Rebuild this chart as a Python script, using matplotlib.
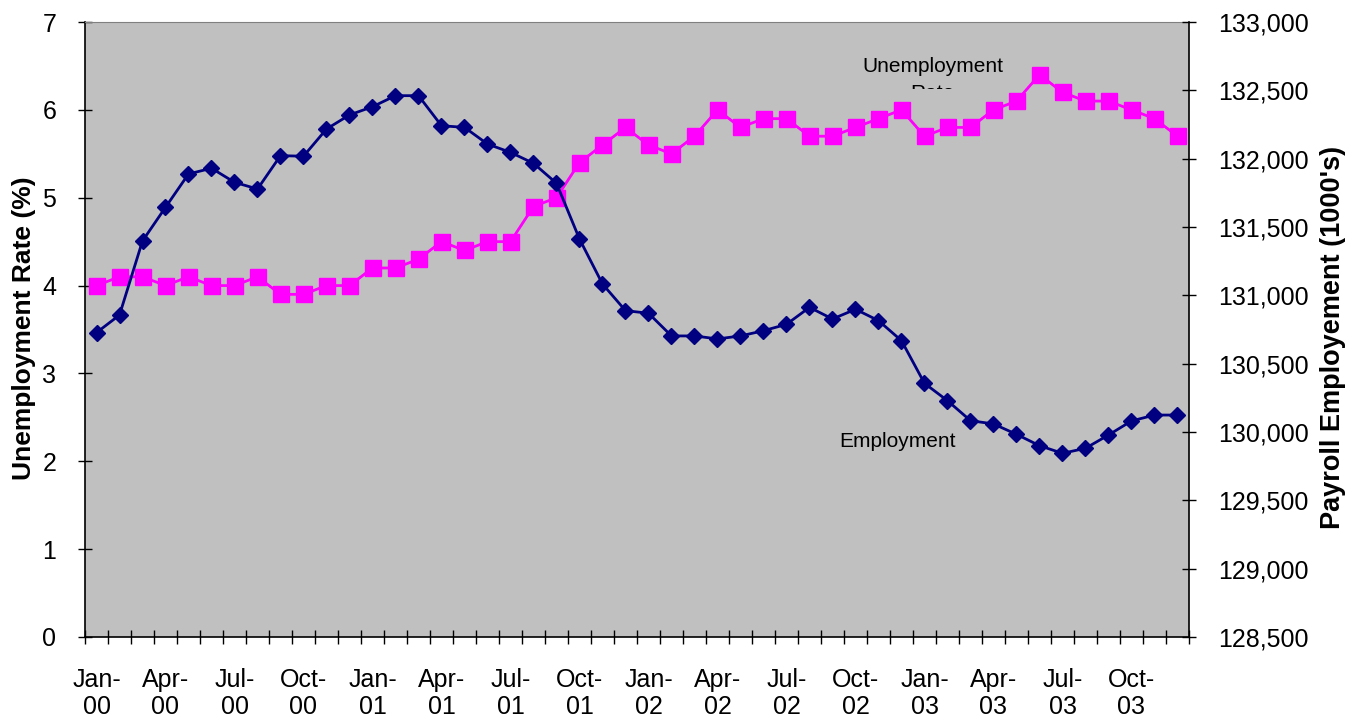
import matplotlib
matplotlib.use('Agg')
import matplotlib.pyplot as plt
from matplotlib.transforms import Bbox, TransformedBbox
from matplotlib.ticker import FuncFormatter
import numpy as np

plt.rcParams['font.family'] = ['Liberation Sans', 'DejaVu Sans']

# monthly data, Jan-00 .. Dec-03
unemployment = [4.0, 4.1, 4.1, 4.0, 4.1, 4.0, 4.0, 4.1, 3.9, 3.9, 4.0, 4.0,
                4.2, 4.2, 4.3, 4.5, 4.4, 4.5, 4.5, 4.9, 5.0, 5.4, 5.6, 5.8,
                5.6, 5.5, 5.7, 6.0, 5.8, 5.9, 5.9, 5.7, 5.7, 5.8, 5.9, 6.0,
                5.7, 5.8, 5.8, 6.0, 6.1, 6.4, 6.2, 6.1, 6.1, 6.0, 5.9, 5.7]
employment = [130727, 130856, 131398, 131644, 131888, 131930, 131827, 131778, 132022, 132018, 132217, 132320,
              132380, 132461, 132461, 132241, 132229, 132107, 132046, 131966, 131820, 131412, 131083, 130888,
              130869, 130703, 130703, 130681, 130703, 130741, 130788, 130912, 130827, 130898, 130815, 130668,
              130356, 130229, 130083, 130059, 129983, 129900, 129844, 129881, 129978, 130081, 130124, 130124]
tick_labels = ['Jan-\n00', 'Apr-\n00', 'Jul-\n00', 'Oct-\n00',
               'Jan-\n01', 'Apr-\n01', 'Jul-\n01', 'Oct-\n01',
               'Jan-\n02', 'Apr-\n02', 'Jul-\n02', 'Oct-\n02',
               'Jan-\n03', 'Apr-\n03', 'Jul-\n03', 'Oct-\n03']

x = np.arange(len(unemployment))

fig = plt.figure(figsize=(13.61, 7.21), dpi=100)
ax = fig.add_axes([85 / 1361, 1 - 637 / 721, 1104 / 1361, 615 / 721])
ax.set_facecolor('#C0C0C0')
ax.plot(x, unemployment, color='#FF00FF', lw=2, marker='s', ms=11, zorder=3)

ax.set_xlim(-0.5, len(x) - 0.5)
ax.set_ylim(0, 7)
ax.set_yticks(range(0, 8))
ax.set_xticks(np.arange(0, len(x), 3))
ax.set_xticklabels(tick_labels)
ax.set_xticks(np.arange(-0.5, len(x), 1), minor=True)
ax.tick_params(axis='x', which='major', length=0, pad=22, labelsize=18)
ax.tick_params(axis='x', which='minor', length=9.5, direction='inout', width=1)
ax.tick_params(axis='y', length=9.5, direction='inout', width=1, pad=16, labelsize=18)

ax.spines['top'].set_color('#808080')
ax.spines['right'].set_visible(False)
for s in ['left', 'bottom']:
    ax.spines[s].set_color('black')
    ax.spines[s].set_linewidth(1.2)

ax2 = ax.twinx()
ax2.plot(x, employment, color='#000080', lw=2, marker='D', ms=8, zorder=3)
ax2.set_ylim(128500, 133000)
ax2.set_yticks(np.arange(128500, 133001, 500))
ax2.yaxis.set_major_formatter(FuncFormatter(lambda v, p: '{:,}'.format(int(v))))
ax2.tick_params(axis='y', length=9.5, direction='inout', width=1, pad=16, labelsize=18)
ax2.spines['right'].set_color('black')
ax2.spines['right'].set_linewidth(1.2)
for s in ['top', 'left', 'bottom']:
    ax2.spines[s].set_visible(False)

# series labels (second line of the first one is cut off, as in the original)
ax.text(0.768, 0.927, 'Unemployment', transform=ax.transAxes,
        ha='center', va='center', fontsize=15, zorder=2)
t = ax.text(0.768, 0.883, 'Rate', transform=ax.transAxes,
            ha='center', va='center', fontsize=15, zorder=2)
t.set_clip_on(True)
t.set_clip_box(TransformedBbox(Bbox([[0, 0.891], [1, 1]]), ax.transAxes))
ax.text(0.736, 0.3176, 'Employment', transform=ax.transAxes,
        ha='center', va='center', fontsize=15, zorder=2)

fig.text(24 / 1361, 1 - 328 / 721, 'Unemployment Rate (%)', rotation=90,
         ha='center', va='center', fontsize=19, fontweight='bold')
fig.text(1333 / 1361, 1 - 337 / 721, "Payroll Employement (1000's)", rotation=90,
         ha='center', va='center', fontsize=19.5, fontweight='bold')

fig.savefig('out.png', dpi=100)
